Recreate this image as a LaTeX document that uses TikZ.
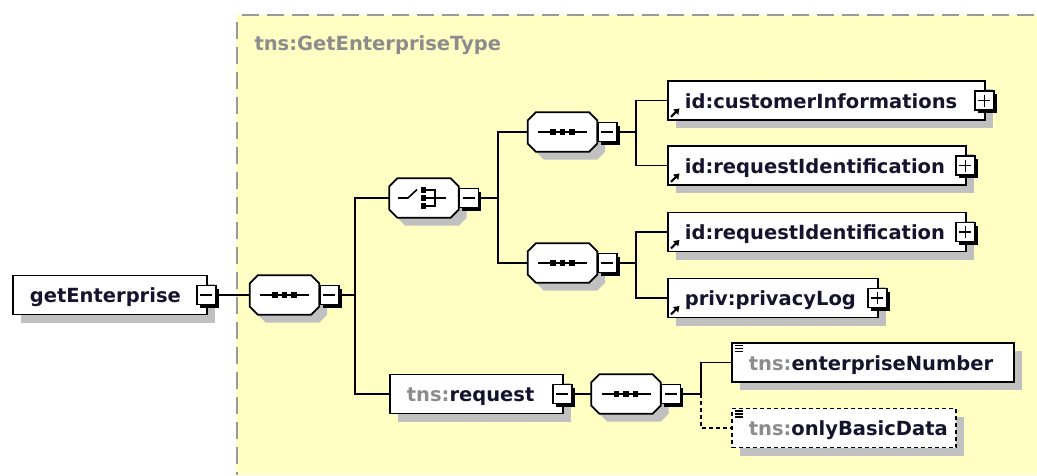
\documentclass[tikz,border=0pt]{standalone}
\usepackage{fontspec}
\setmainfont{DejaVu Sans}
\usetikzlibrary{shadows,arrows.meta}
\definecolor{bgy}{HTML}{FFFFC3}
\definecolor{shd}{HTML}{C0C0C0}
\definecolor{brd}{HTML}{999999}
\definecolor{txt}{HTML}{14142E}
\definecolor{pfx}{HTML}{8C8C8C}
\newcommand\pf[1]{\textcolor{pfx}{#1}}
\tikzset{
  every node/.style={font=\fontsize{19.5}{22}\selectfont\bfseries, text=txt},
  elem/.style={draw=black, line width=1.8pt, fill=white, rectangle, minimum height=39pt,
    inner xsep=17pt, inner ysep=2pt, text height=15pt, text depth=0pt, align=left, anchor=west,
    general shadow={fill=shd, shadow xshift=8pt, shadow yshift=-8pt}},
  optelem/.style={elem, line width=1.6pt, dash pattern=on 4pt off 3pt},
  oct/.style={rectangle, minimum width=69pt, minimum height=39pt, inner sep=0pt},
  signbox/.style={draw=black, line width=1.4pt, fill=white, minimum width=19pt, minimum height=19pt,
    inner sep=0pt, general shadow={fill=black, shadow xshift=3pt, shadow yshift=-3pt}},
  minus/.style={signbox, path picture={\draw[line width=1.6pt]
    ([xshift=3.5pt]path picture bounding box.west) -- ([xshift=-3.5pt]path picture bounding box.east);}},
  plus/.style={signbox, path picture={\draw[line width=1.6pt]
    ([xshift=3.5pt]path picture bounding box.west) -- ([xshift=-3.5pt]path picture bounding box.east)
    ([yshift=-3.5pt]path picture bounding box.north) -- ([yshift=3.5pt]path picture bounding box.south);}},
  conn/.style={draw=black, line width=1.8pt},
  icon/.style={line width=1.6pt, black},
}
\newcommand\octshape[4]{%
  \path[#4] ([shift={(#2+8,#3)}]#1.north west) -- ([shift={(#2-8,#3)}]#1.north east)
   -- ([shift={(#2,#3+8)}]#1.north east) -- ([shift={(#2,#3-8)}]#1.south east)
   -- ([shift={(#2-8,#3)}]#1.south east) -- ([shift={(#2+8,#3)}]#1.south west)
   -- ([shift={(#2,#3-8)}]#1.south west) -- ([shift={(#2,#3+8)}]#1.north west) -- cycle;}
\newcommand\octdraw[1]{%
  \octshape{#1}{8}{8}{fill=shd}%
  \octshape{#1}{0}{0}{fill=white, draw=black, line width=1.8pt}}
\newcommand\seqicon[1]{%
  \draw[icon] ([xshift=-24.5pt]#1.center) -- ([xshift=24.5pt]#1.center);
  \foreach \dx in {-9.5,0,9.5} \fill ([shift={(\dx-2.75,-2.75)}]#1.center) rectangle ++(5.5,5.5);}
\newcommand\choiceicon[1]{%
  \draw[icon] ([shift={(-26,0)}]#1.center) -- ([shift={(-16,0)}]#1.center) -- ([shift={(-7,-8.5)}]#1.center);
  \foreach \dy in {-8,0,8} \fill ([shift={(-3.5,\dy-2.75)}]#1.center) rectangle ++(5.5,5.5);
  \draw[icon] ([shift={(2,-8)}]#1.center) -- ([shift={(11,-8)}]#1.center) -- ([shift={(11,8)}]#1.center) -- ([shift={(2,8)}]#1.center);
  \draw[icon] ([shift={(2,0)}]#1.center) -- ([shift={(22,0)}]#1.center);}
\newcommand\refarrow[1]{%
  \draw[line width=2pt, -{Triangle[length=5.5pt,width=7pt]}] ([shift={(4,-4)}]#1.south west) -- ([shift={(12.5,-12.5)}]#1.south west);}
\newcommand\elicon[1]{%
  \foreach \dy in {3.5,6.5,9.5} \draw[line width=1.5pt] ([shift={(4,\dy)}]#1.north west) -- ++(8,0);}
\begin{document}
\begin{tikzpicture}[x=1pt, y=-1pt]
\useasboundingbox (0,0) rectangle (1037,475);
% complex type area
\fill[bgy] (236,15) rectangle (1037,475);
\draw[brd, line width=2.5pt, dash pattern=on 17pt off 8pt] (242,15) -- (1037,15);
\draw[brd, line width=2.5pt, dash pattern=on 17pt off 8pt] (237,22) -- (237,475);
\node[anchor=base west, text=pfx] (tlabel) at (251,50) {tns:GetEnterpriseType};
% root element
\node[elem, text width=160pt] (ge) at (12,295) {getEnterprise};
\node[minus] (gem) at ([xshift=-1.5pt]ge.east) {};
% sequence 1
\node[oct] (s1) at (284.5,295) {};
\octdraw{s1}\seqicon{s1}
\node[minus, anchor=west] (s1m) at (s1.east) {};
% choice
\node[oct] (ch) at (424,198) {};
\octdraw{ch}\choiceicon{ch}
\node[minus, anchor=west] (chm) at (ch.east) {};
% sequence 2 and 3
\node[oct] (s2) at (562.5,132) {};
\octdraw{s2}\seqicon{s2}
\node[minus, anchor=west] (s2m) at (s2.east) {};
\node[oct] (s3) at (562.5,263) {};
\octdraw{s3}\seqicon{s3}
\node[minus, anchor=west] (s3m) at (s3.east) {};
% referenced elements
\node[elem, text width=283pt] (ci) at (667,100.5) {id:customerInformations};
\node[plus] (cip) at ([xshift=-1.5pt]ci.east) {};
\refarrow{ci}
\node[elem, text width=264pt] (ri1) at (667,165.5) {id:requestIdentification};
\node[plus] (ri1p) at ([xshift=-1.5pt]ri1.east) {};
\refarrow{ri1}
\node[elem, text width=264pt] (ri2) at (667,232) {id:requestIdentification};
\node[plus] (ri2p) at ([xshift=-1.5pt]ri2.east) {};
\refarrow{ri2}
\node[elem, text width=176pt] (pl) at (667,298) {priv:privacyLog};
\node[plus] (plp) at ([xshift=-1.5pt]pl.east) {};
\refarrow{pl}
% request
\node[elem, text width=139pt] (req) at (389,394) {\pf{tns:}request};
\node[minus] (reqm) at ([xshift=-1.5pt]req.east) {};
\node[oct] (s4) at (626,394) {};
\octdraw{s4}\seqicon{s4}
\node[minus, anchor=west] (s4m) at (s4.east) {};
\node[elem, text width=248pt] (en) at (731,362.5) {\pf{tns:}enterpriseNumber};
\elicon{en}
\node[optelem, text width=190pt] (ob) at (731,428) {\pf{tns:}onlyBasicData};
\elicon{ob}
% connectors
\coordinate (b1) at (355,295);
\coordinate (b2) at (498,198);
\coordinate (b3) at (636,132);
\coordinate (b4) at (636,263);
\coordinate (b5) at (701,394);
\draw[conn] (gem.east) -- (s1.west);
\draw[conn] (s1m.east) -- (b1);
\draw[conn] (b1) |- (ch.west);
\draw[conn] (b1) |- (req.west);
\draw[conn] (chm.east) -- (b2);
\draw[conn] (b2) |- (s2.west);
\draw[conn] (b2) |- (s3.west);
\draw[conn] (s2m.east) -- (b3);
\draw[conn] (b3) |- (ci.west);
\draw[conn] (b3) |- (ri1.west);
\draw[conn] (s3m.east) -- (b4);
\draw[conn] (b4) |- (ri2.west);
\draw[conn] (b4) |- (pl.west);
\draw[conn] (reqm.east) -- (s4.west);
\draw[conn] (s4m.east) -- (b5);
\draw[conn] (b5) |- (en.west);
\draw[conn, line width=1.6pt, dash pattern=on 4pt off 3pt] (b5) |- (ob.west);
\end{tikzpicture}
\end{document}
